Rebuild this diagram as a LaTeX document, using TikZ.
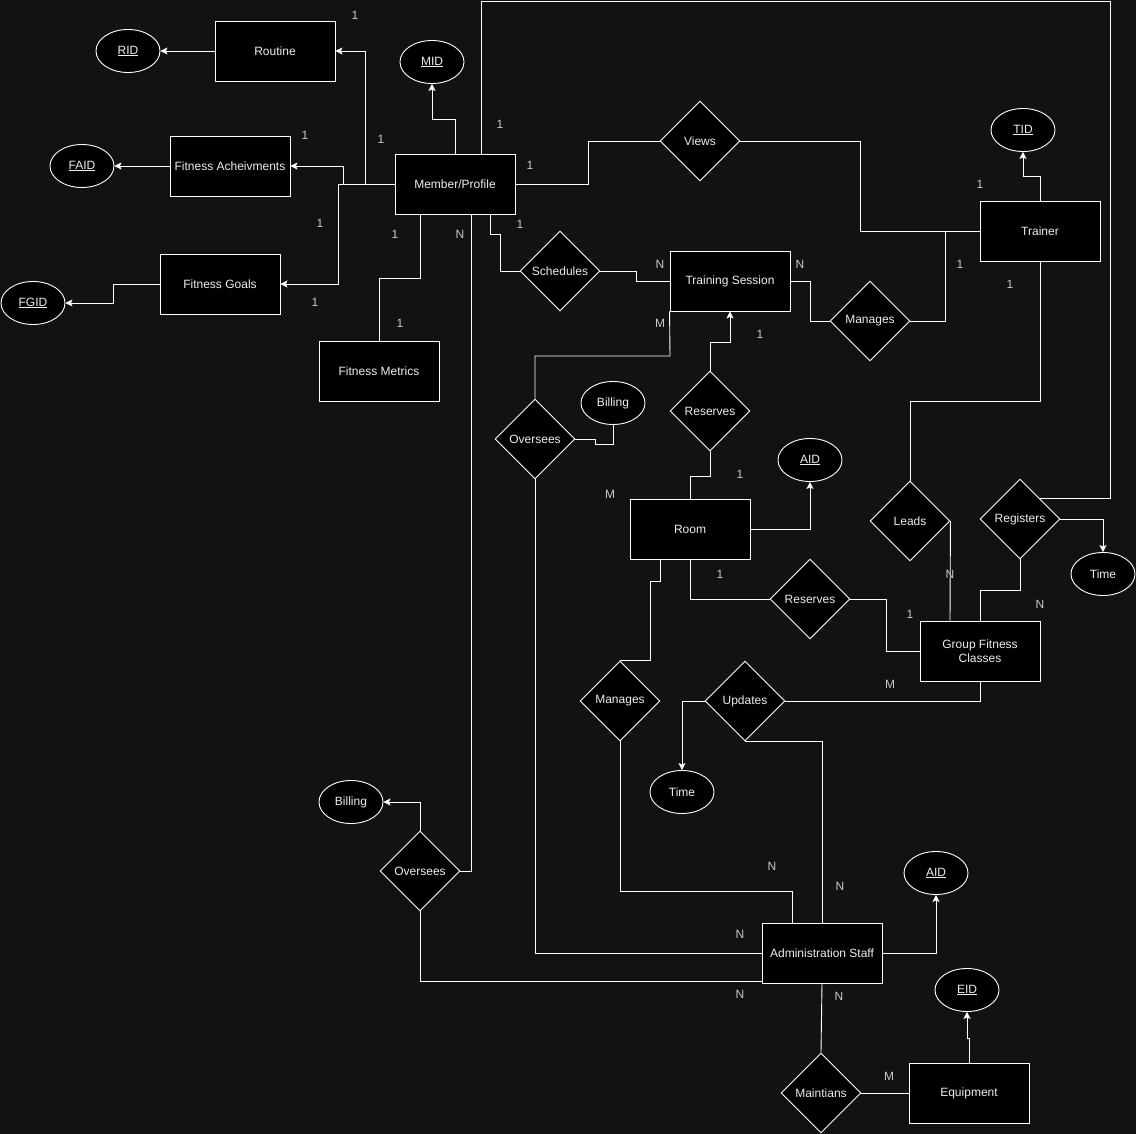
\documentclass[tikz,border=0pt]{standalone}
\usepackage{fontspec}
\setmainfont{Liberation Sans}
\usetikzlibrary{arrows.meta,shapes.geometric}
\definecolor{bg}{HTML}{121212}
\definecolor{ink}{HTML}{EEEEEE}

\begin{document}
\begin{tikzpicture}[>={Stealth[length=7pt,width=7pt,inset=1.5pt]},x=1pt,y=-1pt,white,line width=0.9pt,
                    font=\fontsize{12}{14}\selectfont,
                    entity/.style={rectangle,draw,fill=black,text=ink,minimum width=120pt,minimum height=60pt,inner sep=1pt},
                    rel/.style={diamond,draw,fill=black,text=ink,minimum width=80pt,minimum height=80pt,inner sep=1pt},
                    attr/.style={ellipse,draw,fill=black,text=ink,minimum width=64pt,minimum height=43pt,inner sep=1pt},
                    card/.style={text=ink!85!black,inner sep=0pt}]
  \useasboundingbox (0,0) rectangle (1136,1134);
  \fill[bg] (0,0) rectangle (1136,1134);

  % entities
  \node[entity] (routine) at (275,51) {Routine};
  \node[entity] (achieve) at (230,166) {Fitness Acheivments};
  \node[entity] (member)  at (455,184) {Member/Profile};
  \node[entity] (goals)   at (220,284) {Fitness Goals};
  \node[entity] (metrics) at (379,371) {Fitness Metrics};
  \node[entity] (session) at (730,281) {Training Session};
  \node[entity] (trainer) at (1040,231) {Trainer};
  \node[entity] (room)    at (690,529) {Room};
  \node[entity,align=center] (classes) at (980,651) {Group Fitness\\Classes};
  \node[entity] (admin)   at (822,953) {Administration Staff};
  \node[entity] (equip)   at (969,1093) {Equipment};

  % attributes
  \node[attr] (rid)      at (128,51)  {\underline{RID}};
  \node[attr] (mid)      at (432,62)  {\underline{MID}};
  \node[attr] (faid)     at (82,166)  {\underline{FAID}};
  \node[attr] (fgid)     at (33,303)  {\underline{FGID}};
  \node[attr] (tid)      at (1023,130) {\underline{TID}};
  \node[attr] (billing1) at (613,403) {Billing};
  \node[attr] (aid1)     at (810,460) {\underline{AID}};
  \node[attr] (time1)    at (1103,574) {Time};
  \node[attr] (time2)    at (682,792) {Time};
  \node[attr] (billing2) at (351,802) {Billing};
  \node[attr] (aid2)     at (936,873) {\underline{AID}};
  \node[attr] (eid)      at (967,990) {\underline{EID}};

  % relationships
  \node[rel] (views)     at (700,141) {Views};
  \node[rel] (schedules) at (560,271) {Schedules};
  \node[rel] (manages1)  at (870,321) {Manages};
  \node[rel] (reserves1) at (710,411) {Reserves};
  \node[rel] (oversees1) at (535,439) {Oversees};
  \node[rel] (leads)     at (910,521) {Leads};
  \node[rel] (registers) at (1020,519) {Registers};
  \node[rel] (reserves2) at (810,599) {Reserves};
  \node[rel] (manages2)  at (620,701) {Manages};
  \node[rel] (updates)   at (745,701) {Updates};
  \node[rel] (oversees2) at (420,871) {Oversees};
  \node[rel] (maintains) at (821,1093) {Maintians};

  % member side
  \draw[->] (member.west) -- (365,184) |- (routine.east);
  \draw[->] (member.west) -- (343,184) |- (achieve.east);
  \draw[->] (member.west) -- (338,184) |- (goals.east);
  \draw[->] (routine.west) -- (rid.east);
  \draw[->] (achieve.west) -- (faid.east);
  \draw[->] (goals.west) -- (113,284) |- (fgid.east);
  \draw[->] (member.north) -- (455,119) -| (mid.south);
  \draw ([xshift=26pt]member.north) -- (481,1) -- (1110,1) |- (registers.north east);
  \draw ([xshift=-35pt]member.south) -- (420,278) -| (metrics.north);
  \draw ([xshift=16pt]member.south) |- (oversees2.east);
  \draw ([xshift=35pt]member.south) -- (490,234) -- (500,234) |- (schedules.west);
  \draw (member.east) -- (588,184) |- (views.west);

  % trainer and sessions
  \draw (views.east) -- (860,141) |- (trainer.west);
  \draw (schedules.east) -- (636,271) |- (session.west);
  \draw (session.east) -- (810,281) |- (manages1.west);
  \draw (manages1.east) -- (945,321) |- (trainer.west);
  \draw[->] (trainer.north) -- (1040,176) -| (tid.south);
  \draw (trainer.south) -- (1040,401) -| (leads.north);
  \draw (session.south west) -- (670,356) -| (oversees1.north);
  \draw (oversees1.east) -- (595,439) -- (595,444) -| (billing1.south);
  \draw (oversees1.south) |- (admin.west);
  \draw (room.north) -- (690,476) -| (reserves1.south);
  \draw[->] (reserves1.north) -- (710,342) -| (session.south);

  % room and classes
  \draw[->] (room.east) -| (aid1.south);
  \draw ([xshift=-30pt]room.south) -- (660,581) -- (650,581) |- (manages2.north);
  \draw (room.south) |- (reserves2.west);
  \draw (reserves2.east) -- (886,599) |- (classes.west);
  \draw (leads.east) -- ([xshift=-30pt]classes.north);
  \draw (registers.south) -- (1020,590) -| (classes.north);
  \draw[->] (registers.east) -| (time1.north);
  \draw (classes.south) |- (updates.east);
  \draw[->] (updates.west) -| (time2.north);

  % administration
  \draw (updates.south) -| (admin.north);
  \draw (manages2.south) -- (620,891) -| ([xshift=-30pt]admin.north);
  \draw (oversees2.south) |- ([yshift=2pt]admin.south west);
  \draw[->] (oversees2.north) |- (billing2.east);
  \draw[->] (admin.east) -| (aid2.south);
  \draw (admin.south) -- (maintains.north);
  \draw (maintains.east) -- (equip.west);
  \draw[->] (equip.north) -- (969,1038) -| (eid.south);

  % cardinalities
  \node[card] (c1) at (355,15) {1};   \node[card] (c2) at (305,135) {1};
  \node[card] (c3) at (381,139) {1};  \node[card] (c4) at (500,124) {1};
  \node[card] (c5) at (530,165) {1};  \node[card] (c6) at (320,223) {1};
  \node[card] (c7) at (395,234) {1};  \node[card] (c8) at (460,234) {N};
  \node[card] (c9) at (520,224) {1};  \node[card] (c10) at (315,302) {1};
  \node[card] (c11) at (400,323) {1}; \node[card] (c12) at (660,264) {N};
  \node[card] (c13) at (800,264) {N}; \node[card] (c14) at (660,323) {M};
  \node[card] (c15) at (760,334) {1}; \node[card] (c16) at (980,184) {1};
  \node[card] (c17) at (960,264) {1}; \node[card] (c18) at (1010,284) {1};
  \node[card] (c19) at (740,474) {1}; \node[card] (c20) at (610,494) {M};
  \node[card] (c21) at (720,574) {1}; \node[card] (c22) at (950,574) {N};
  \node[card] (c23) at (910,614) {1}; \node[card] (c24) at (1040,604) {N};
  \node[card] (c25) at (890,684) {M}; \node[card] (c26) at (772,866) {N};
  \node[card] (c27) at (840,886) {N}; \node[card] (c28) at (740,934) {N};
  \node[card] (c29) at (740,994) {N}; \node[card] (c30) at (839,996) {N};
  \node[card] (c31) at (889,1076) {M};
\end{tikzpicture}
\end{document}
